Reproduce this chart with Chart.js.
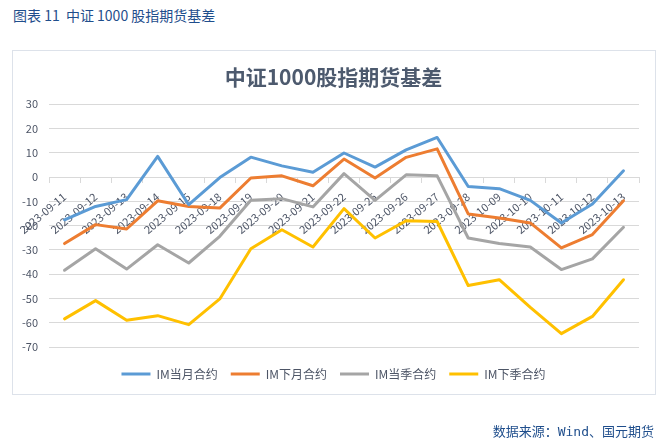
<!DOCTYPE html>
<html>
<head>
<meta charset="utf-8">
<script src="https://cdn.jsdelivr.net/npm/chart.js@4.4.0/dist/chart.umd.min.js"></script>
<style>
  body { margin: 0; width: 666px; height: 443px; background: #fff; position: relative; overflow: hidden; }
  #head { position: absolute; left: 13px; top: 5px; font: 14px "Noto Sans CJK SC", sans-serif; color: #1F4E8C; white-space: pre; }
  #frame { position: absolute; left: 12px; top: 50px; width: 642px; height: 343px; border: 1px solid #DDE2EA; }
  #source { position: absolute; right: 12px; top: 421px; font: 13px "DejaVu Sans Mono", "Noto Sans CJK SC", monospace; color: #1F4E8C; }
  canvas { position: absolute; left: 0; top: 0; }
</style>
</head>
<body>
<div id="head">图表 11  中证 1000 股指期货基差</div>
<div id="frame"></div>
<canvas id="basis-chart" width="666" height="443"></canvas>
<div id="source">数据来源：Wind、国元期货</div>
<script>
let dates = ['2023-09-11', '2023-09-12', '2023-09-13', '2023-09-14', '2023-09-15',
  '2023-09-18', '2023-09-19', '2023-09-20', '2023-09-21', '2023-09-22',
  '2023-09-25', '2023-09-26', '2023-09-27', '2023-09-28', '2023-10-09',
  '2023-10-10', '2023-10-11', '2023-10-12', '2023-10-13'];

let imMonth   = [-17.6, -12.1, -9.3, 8.5, -11.4, -0.2, 8.2, 4.6, 2.0, 9.9,
  4.1, 11.2, 16.3, -3.9, -4.8, -9.6, -18.9, -11.1, 2.6];
let imNext    = [-27.4, -19.6, -21.4, -9.8, -12.1, -12.8, -0.4, 0.5, -3.6, 7.4,
  -0.4, 8.1, 11.6, -15.2, -16.9, -18.9, -29.2, -23.7, -9.8];
let imQuarter = [-38.4, -29.5, -37.9, -27.9, -35.4, -24.4, -9.6, -8.9, -12.3, 1.4,
  -9.6, 0.9, 0.5, -25.1, -27.4, -28.8, -38.1, -33.7, -20.7];
let imNextQ   = [-58.4, -50.9, -59.0, -57.1, -60.8, -50.2, -29.5, -21.7, -28.8, -13.0,
  -25.1, -18.0, -18.3, -44.7, -42.3, -53.7, -64.5, -57.4, -42.3];

let seriesNames = ['IM当月合约', 'IM下月合约', 'IM当季合约', 'IM下季合约'];
let seriesColors = ['#5B9BD5', '#ED7D31', '#A5A5A5', '#FFC000'];

let font = '"Microsoft YaHei", "Noto Sans CJK SC", sans-serif';
let textColor = '#4D5566';
let gridColor = '#D9D9D9';

let makeSet = function (i, data) {
  return {
    label: seriesNames[i],
    data: data,
    xAxisID: 'x',
    yAxisID: 'y',
    borderColor: seriesColors[i],
    backgroundColor: seriesColors[i],
    borderWidth: 3,
    pointRadius: 0,
    pointHoverRadius: 0,
    tension: 0,
    borderJoinStyle: 'round',
    borderCapStyle: 'round'
  };
};

let ctx = document.getElementById('basis-chart').getContext('2d');

let chart = new Chart(ctx, {
  type: 'line',
  data: {
    labels: dates,
    datasets: [
      makeSet(0, imMonth),
      makeSet(1, imNext),
      makeSet(2, imQuarter),
      makeSet(3, imNextQ)
    ]
  },
  options: {
    responsive: false,
    animation: false,
    devicePixelRatio: 1,
    layout: { padding: { left: 10, right: 9, top: 54, bottom: 53 } },
    plugins: {
      tooltip: { enabled: false },
      title: {
        display: true,
        text: '中证1000股指期货基差',
        color: '#4D5A6E',
        font: { family: font, size: 21, weight: 'bold' },
        padding: { top: 10, bottom: 15 }
      },
      legend: {
        position: 'bottom',
        labels: {
          usePointStyle: true,
          pointStyle: 'line',
          pointStyleWidth: 29,
          padding: 13,
          color: textColor,
          font: { family: font, size: 12 }
        }
      }
    },
    scales: {
      x: {
        position: { y: 0 },
        offset: true,
        z: 1,
        border: { color: gridColor },
        grid: { offset: true, drawOnChartArea: false, drawTicks: true, tickLength: 5, color: gridColor },
        ticks: {
          autoSkip: false,
          minRotation: 40,
          maxRotation: 40,
          padding: 8,
          color: textColor,
          font: { family: font, size: 11 }
        }
      },
      y: {
        min: -70,
        max: 30,
        border: { display: false },
        grid: { color: gridColor, drawTicks: false },
        ticks: {
          stepSize: 10,
          padding: 11,
          color: textColor,
          font: { family: font, size: 11 }
        },
        afterFit: function (s) { s.width = 39; }
      },
      // empty strips: below the plot and right of it
      gap: {
        axis: 'x',
        position: 'bottom',
        grid: { display: false },
        border: { display: false },
        ticks: { display: false },
        afterFit: function (s) { s.height = 8; }
      },
      gapRight: {
        axis: 'y',
        position: 'right',
        grid: { display: false },
        border: { display: false },
        ticks: { display: false },
        afterFit: function (s) { s.width = 18; }
      }
    }
  }
});
</script>
</body>
</html>
